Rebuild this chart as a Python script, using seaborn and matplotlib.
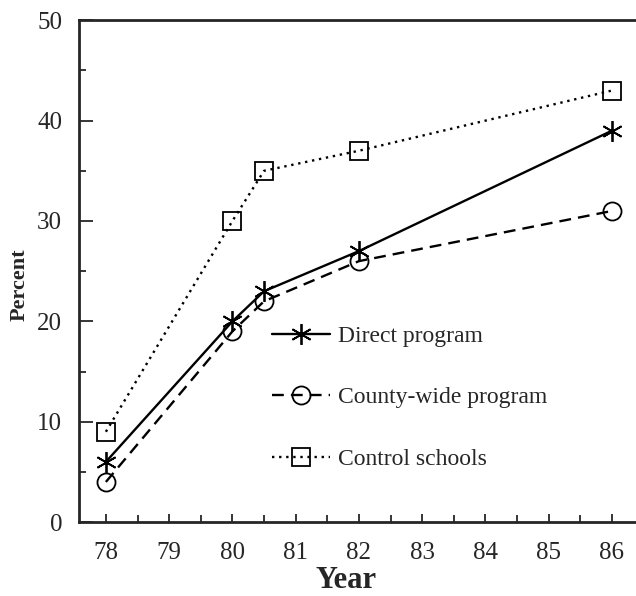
import matplotlib
matplotlib.use("Agg")
import matplotlib.pyplot as plt
import seaborn as sns

# 데이터
years = [78, 80, 80.5, 82, 86]
direct = [6, 20, 23, 27, 39]
county = [4, 19, 22, 26, 31]
control = [9, 30, 35, 37, 43]
labels = ["Direct program", "County-wide program", "Control schools"]

sns.set_style("ticks")
plt.rcParams["font.family"] = ["Liberation Serif", "DejaVu Serif"]

fig = plt.figure(figsize=(6.36, 5.96), dpi=100)
ax = fig.add_axes([0.124, 0.124, 0.876, 0.842])

styles = [
    (direct, "-", (6, 2, 0), 15),
    (county, (0, (5, 3)), "o", 13),
    (control, (0, (1, 2)), "s", 13),
]
for (vals, ls, mk, ms), lab in zip(styles, labels):
    sns.lineplot(x=years, y=vals, ax=ax, color="black", linestyle=ls,
                 linewidth=1.7, marker=mk, markersize=ms, mfc="white",
                 mec="black", mew=1.3, label=lab)
# 마커 안쪽 선이 보이게
for ln in ax.lines:
    ln.set_markerfacecolor("none")

ax.set_xlim(77.573, 86.38)
ax.set_ylim(0, 50)
ax.set_xticks(range(78, 87))
ax.set_xticks([x + 0.5 for x in range(78, 86)], minor=True)
ax.set_yticks(range(0, 51, 10))
ax.set_yticks(range(5, 50, 10), minor=True)
ax.tick_params(axis="both", which="both", direction="in", width=1.3,
               labelsize=18)
ax.tick_params(axis="x", which="major", length=6, pad=14)
ax.tick_params(axis="x", which="minor", length=5)
ax.tick_params(axis="y", which="major", length=10, pad=12)
ax.tick_params(axis="y", which="minor", length=5)

for side in ["left", "bottom", "top"]:
    ax.spines[side].set_linewidth(2)
ax.spines["right"].set_visible(False)

ax.set_xlabel("Year", fontsize=22, fontweight="bold", va="center")
ax.xaxis.set_label_coords(0.479, -0.117)
ax.set_ylabel("Percent", fontsize=16, fontweight="bold", va="center")
ax.yaxis.set_label_coords(-0.106, 0.474)

ax.legend(loc="center left", bbox_to_anchor=(0.33, 0.248), frameon=False,
          fontsize=17, handlelength=2.45, labelspacing=1.69, borderaxespad=0,
          handletextpad=0.35)

plt.savefig("out.png", dpi=100)
